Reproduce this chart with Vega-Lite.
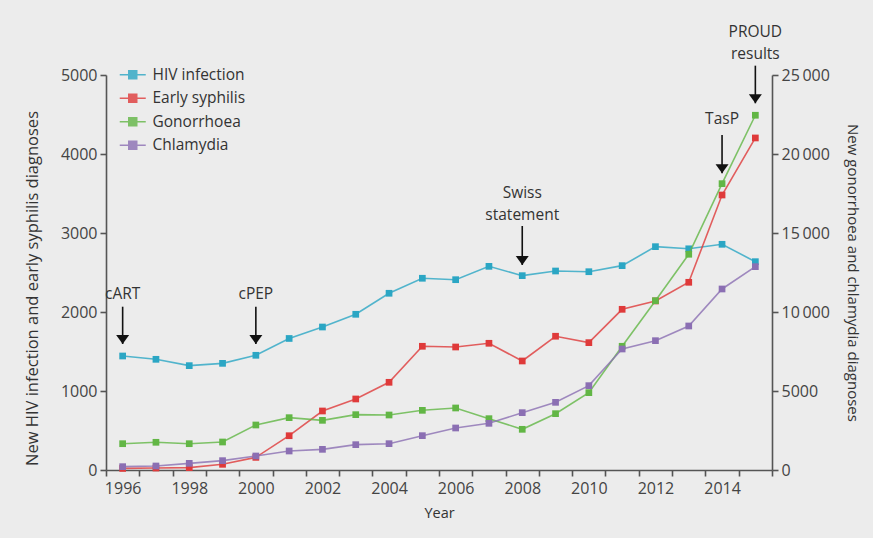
{
  "$schema": "https://vega.github.io/schema/vega-lite/v6.json",
  "autosize": "none",
  "width": 666,
  "height": 395,
  "padding": {"left": 106, "top": 75, "right": 101, "bottom": 68},
  "background": "#ececec",
  "config": {
    "view": {"stroke": null},
    "font": "Open Sans",
    "axis": {"domainColor": "#555", "domainWidth": 1.6, "tickColor": "#555", "tickWidth": 1.6, "tickSize": 6, "labelColor": "#444", "labelFontSize": 16, "titleColor": "#333", "titleFontSize": 16, "titleFontWeight": "normal", "grid": false}
  },
  "datasets": {
    "series": [
      {"year": 1996, "series": "HIV infection", "value": 1443},
      {"year": 1997, "series": "HIV infection", "value": 1401},
      {"year": 1998, "series": "HIV infection", "value": 1321},
      {"year": 1999, "series": "HIV infection", "value": 1350},
      {"year": 2000, "series": "HIV infection", "value": 1452},
      {"year": 2001, "series": "HIV infection", "value": 1665},
      {"year": 2002, "series": "HIV infection", "value": 1810},
      {"year": 2003, "series": "HIV infection", "value": 1971},
      {"year": 2004, "series": "HIV infection", "value": 2237},
      {"year": 2005, "series": "HIV infection", "value": 2427},
      {"year": 2006, "series": "HIV infection", "value": 2409},
      {"year": 2007, "series": "HIV infection", "value": 2578},
      {"year": 2008, "series": "HIV infection", "value": 2460},
      {"year": 2009, "series": "HIV infection", "value": 2519},
      {"year": 2010, "series": "HIV infection", "value": 2510},
      {"year": 2011, "series": "HIV infection", "value": 2587},
      {"year": 2012, "series": "HIV infection", "value": 2827},
      {"year": 2013, "series": "HIV infection", "value": 2800},
      {"year": 2014, "series": "HIV infection", "value": 2857},
      {"year": 2015, "series": "HIV infection", "value": 2637},
      {"year": 1996, "series": "Early syphilis", "value": 20},
      {"year": 1997, "series": "Early syphilis", "value": 25},
      {"year": 1998, "series": "Early syphilis", "value": 30},
      {"year": 1999, "series": "Early syphilis", "value": 72},
      {"year": 2000, "series": "Early syphilis", "value": 160},
      {"year": 2001, "series": "Early syphilis", "value": 434},
      {"year": 2002, "series": "Early syphilis", "value": 747},
      {"year": 2003, "series": "Early syphilis", "value": 899},
      {"year": 2004, "series": "Early syphilis", "value": 1110},
      {"year": 2005, "series": "Early syphilis", "value": 1566},
      {"year": 2006, "series": "Early syphilis", "value": 1557},
      {"year": 2007, "series": "Early syphilis", "value": 1604},
      {"year": 2008, "series": "Early syphilis", "value": 1380},
      {"year": 2009, "series": "Early syphilis", "value": 1693},
      {"year": 2010, "series": "Early syphilis", "value": 1612},
      {"year": 2011, "series": "Early syphilis", "value": 2034},
      {"year": 2012, "series": "Early syphilis", "value": 2140},
      {"year": 2013, "series": "Early syphilis", "value": 2376},
      {"year": 2014, "series": "Early syphilis", "value": 3481},
      {"year": 2015, "series": "Early syphilis", "value": 4203},
      {"year": 1996, "series": "Gonorrhoea", "value": 1665},
      {"year": 1997, "series": "Gonorrhoea", "value": 1753},
      {"year": 1998, "series": "Gonorrhoea", "value": 1665},
      {"year": 1999, "series": "Gonorrhoea", "value": 1772},
      {"year": 2000, "series": "Gonorrhoea", "value": 2848},
      {"year": 2001, "series": "Gonorrhoea", "value": 3312},
      {"year": 2002, "series": "Gonorrhoea", "value": 3144},
      {"year": 2003, "series": "Gonorrhoea", "value": 3502},
      {"year": 2004, "series": "Gonorrhoea", "value": 3481},
      {"year": 2005, "series": "Gonorrhoea", "value": 3777},
      {"year": 2006, "series": "Gonorrhoea", "value": 3925},
      {"year": 2007, "series": "Gonorrhoea", "value": 3249},
      {"year": 2008, "series": "Gonorrhoea", "value": 2575},
      {"year": 2009, "series": "Gonorrhoea", "value": 3565},
      {"year": 2010, "series": "Gonorrhoea", "value": 4895},
      {"year": 2011, "series": "Gonorrhoea", "value": 7830},
      {"year": 2012, "series": "Gonorrhoea", "value": 10716},
      {"year": 2013, "series": "Gonorrhoea", "value": 13654},
      {"year": 2014, "series": "Gonorrhoea", "value": 18123},
      {"year": 2015, "series": "Gonorrhoea", "value": 22452},
      {"year": 1996, "series": "Chlamydia", "value": 211},
      {"year": 1997, "series": "Chlamydia", "value": 253},
      {"year": 1998, "series": "Chlamydia", "value": 422},
      {"year": 1999, "series": "Chlamydia", "value": 591},
      {"year": 2000, "series": "Chlamydia", "value": 886},
      {"year": 2001, "series": "Chlamydia", "value": 1203},
      {"year": 2002, "series": "Chlamydia", "value": 1308},
      {"year": 2003, "series": "Chlamydia", "value": 1603},
      {"year": 2004, "series": "Chlamydia", "value": 1666},
      {"year": 2005, "series": "Chlamydia", "value": 2173},
      {"year": 2006, "series": "Chlamydia", "value": 2659},
      {"year": 2007, "series": "Chlamydia", "value": 2954},
      {"year": 2008, "series": "Chlamydia", "value": 3629},
      {"year": 2009, "series": "Chlamydia", "value": 4283},
      {"year": 2010, "series": "Chlamydia", "value": 5338},
      {"year": 2011, "series": "Chlamydia", "value": 7659},
      {"year": 2012, "series": "Chlamydia", "value": 8185},
      {"year": 2013, "series": "Chlamydia", "value": 9115},
      {"year": 2014, "series": "Chlamydia", "value": 11457},
      {"year": 2015, "series": "Chlamydia", "value": 12869}
    ],
    "events": [
      {"year": 1996, "label": "cART", "textTop": 2322, "arrowStart": 2067, "arrowTip": 1595},
      {"year": 2000, "label": "cPEP", "textTop": 2322, "arrowStart": 2067, "arrowTip": 1595},
      {"year": 2008, "label": "Swiss\nstatement", "textTop": 3595, "arrowStart": 3089, "arrowTip": 2595},
      {"year": 2014, "label": "TasP", "textTop": 4537, "arrowStart": 4241, "arrowTip": 3756},
      {"year": 2015, "label": "PROUD\nresults", "textTop": 5634, "arrowStart": 5118, "arrowTip": 4642}
    ]
  },
  "layer": [
    {
      "layer": [
        {
          "data": {"name": "series"},
          "transform": [{"filter": "datum.series === 'HIV infection' || datum.series === 'Early syphilis'"}],
          "mark": {"type": "line", "strokeWidth": 1.6, "opacity": 0.8, "point": {"shape": "square", "size": 45, "filled": true, "opacity": 1}},
          "encoding": {
            "x": {"field": "year", "type": "ordinal", "bandPosition": 0.5, "title": "Year",
              "scale": {"type": "band", "paddingInner": 0, "paddingOuter": 0},
              "axis": {"labelAngle": 0, "tickBand": "extent", "labelExpr": "datum.value % 2 == 0 ? datum.label : ''", "labelPadding": 4, "titlePadding": 10, "titleFontSize": 14.5}},
            "y": {"field": "value", "type": "quantitative",
              "scale": {"domain": [0, 5000], "nice": false},
              "axis": {"values": [0, 1000, 2000, 3000, 4000, 5000], "format": "d", "title": "New HIV infection and early syphilis diagnoses", "titlePadding": 20, "labelPadding": 3, "titleY": 213, "titleFontSize": 16.5}},
            "color": {"field": "series", "type": "nominal",
              "scale": {"domain": ["HIV infection", "Early syphilis", "Gonorrhoea", "Chlamydia"], "range": ["#2ba6c4", "#df3a3a", "#62b645", "#8b6fb3"]},
              "legend": {"title": null, "orient": "none", "legendX": 19, "legendY": -8,
                "symbolType": "M-2.6,0H2.6M-0.8,-0.8H0.8V0.8H-0.8Z", "symbolSize": 100, "symbolStrokeWidth": 1.5,
                "labelOffset": 12, "labelFontSize": 15.5, "labelColor": "#333", "rowPadding": 6.5,
                "encode": {"symbols": {"update": {"fill": {"scale": "color", "field": "value"}, "stroke": {"scale": "color", "field": "value"}, "opacity": {"value": 1}}}}}}
          }
        },
        {
          "data": {"name": "events"},
          "mark": {"type": "rule", "color": "#111", "strokeWidth": 1.6},
          "encoding": {
            "x": {"field": "year", "type": "ordinal", "bandPosition": 0.5},
            "y": {"field": "arrowStart", "type": "quantitative"},
            "y2": {"field": "arrowTip"}
          }
        },
        {
          "data": {"name": "events"},
          "mark": {"type": "point", "shape": "M-1,-1.4L1,-1.4L0,0Z", "size": 169, "filled": true, "color": "#111", "opacity": 1},
          "encoding": {
            "x": {"field": "year", "type": "ordinal", "bandPosition": 0.5},
            "y": {"field": "arrowTip", "type": "quantitative"}
          }
        },
        {
          "data": {"name": "events"},
          "mark": {"type": "text", "baseline": "top", "align": "center", "lineBreak": "\n", "fontSize": 15.5, "color": "#333", "lineHeight": 22},
          "encoding": {
            "x": {"field": "year", "type": "ordinal", "bandPosition": 0.5},
            "y": {"field": "textTop", "type": "quantitative"},
            "text": {"field": "label"}
          }
        }
      ]
    },
    {
      "data": {"name": "series"},
      "transform": [{"filter": "datum.series === 'Gonorrhoea' || datum.series === 'Chlamydia'"}],
      "mark": {"type": "line", "strokeWidth": 1.6, "opacity": 0.8, "point": {"shape": "square", "size": 45, "filled": true, "opacity": 1}},
      "encoding": {
        "x": {"field": "year", "type": "ordinal", "bandPosition": 0.5},
        "y": {"field": "value", "type": "quantitative",
          "scale": {"domain": [0, 25000], "nice": false},
          "axis": {"orient": "right", "values": [0, 5000, 10000, 15000, 20000, 25000], "labelExpr": "datum.value >= 10000 ? floor(datum.value/1000) + '\u2009000' : '' + datum.value", "title": "New gonorrhoea and chlamydia diagnoses", "titlePadding": 15, "labelPadding": 3, "titleFontSize": 15}},
        "color": {"field": "series", "type": "nominal"}
      }
    }
  ],
  "resolve": {"scale": {"y": "independent"}}
}
